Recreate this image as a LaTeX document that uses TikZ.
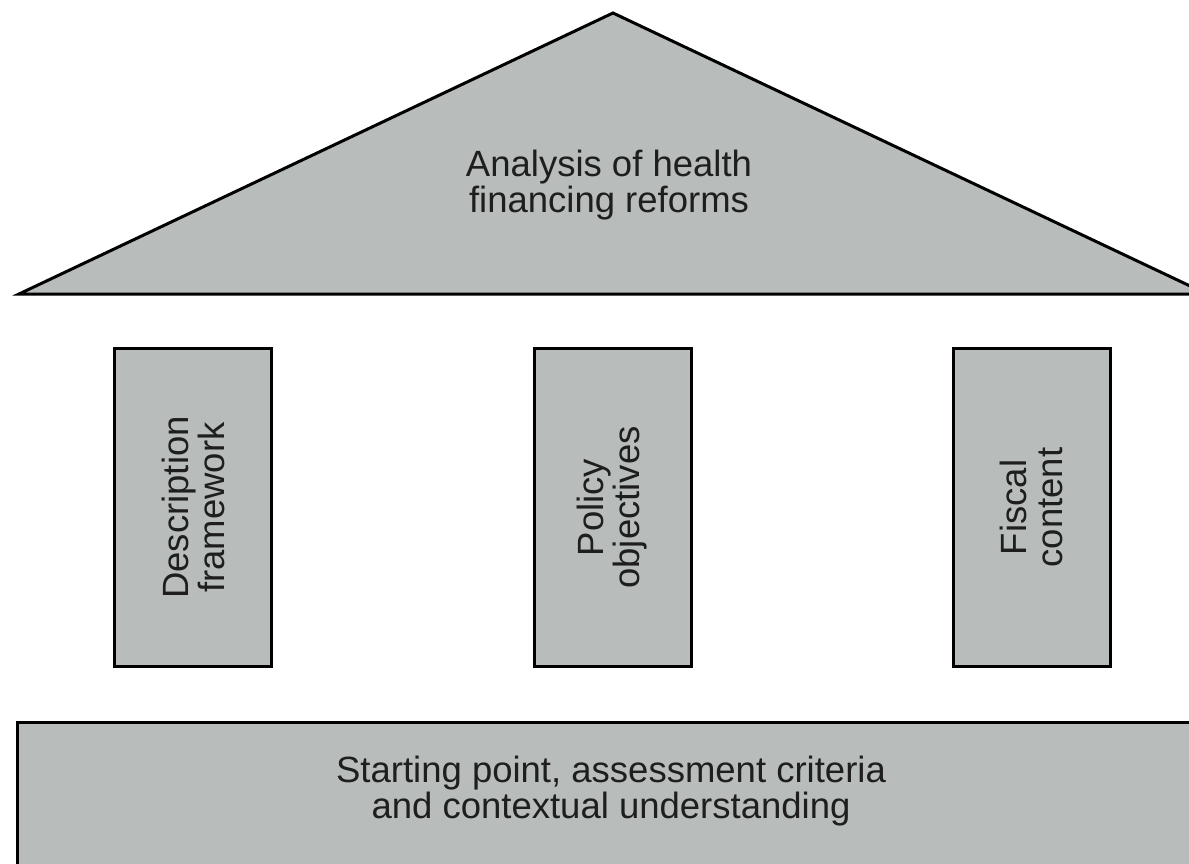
\documentclass[tikz,border=0pt]{standalone}
\usepackage{fontspec}
\setmainfont{Liberation Sans}
\definecolor{fillgray}{RGB}{184,189,188}
\definecolor{textgray}{RGB}{30,30,30}
\tikzset{
  part/.style={draw=black, line width=3pt, fill=fillgray, line join=miter},
  lbl/.style={text=textgray, align=center, font=\fontsize{36.5}{36}\selectfont, inner sep=0pt},
  pillar/.style={part, rotate=90, minimum width=318pt, minimum height=157pt, inner sep=0pt, align=center, text=textgray, font=\fontsize{36.5}{36}\selectfont}
}
\begin{document}
\begin{tikzpicture}[x=1pt, y=-1pt]
\useasboundingbox (0,0) rectangle (1189,864);
\clip (0,0) rectangle (1189,864);
% roof
\coordinate (roofL) at (19,294);
\coordinate (roofT) at (613,13);
\coordinate (roofR) at (1207,294);
\draw[part] (roofL) -- (roofT) -- (roofR) -- cycle;
\node[lbl] (roof) at (609,185) {Analysis of health\\financing reforms};
% pillars
\node[pillar] (p1) at (193,507.5) {Description\\framework};
\node[pillar] (p2) at (612.5,507.5) {Policy\\objectives};
\node[pillar] (p3) at (1031.5,507.5) {Fiscal\\content};
% base
\draw[part] (17.5,722.5) rectangle (1210,890);
\node[lbl] (base) at (611,791) {Starting point, assessment criteria\\and contextual understanding};
\end{tikzpicture}
\end{document}
